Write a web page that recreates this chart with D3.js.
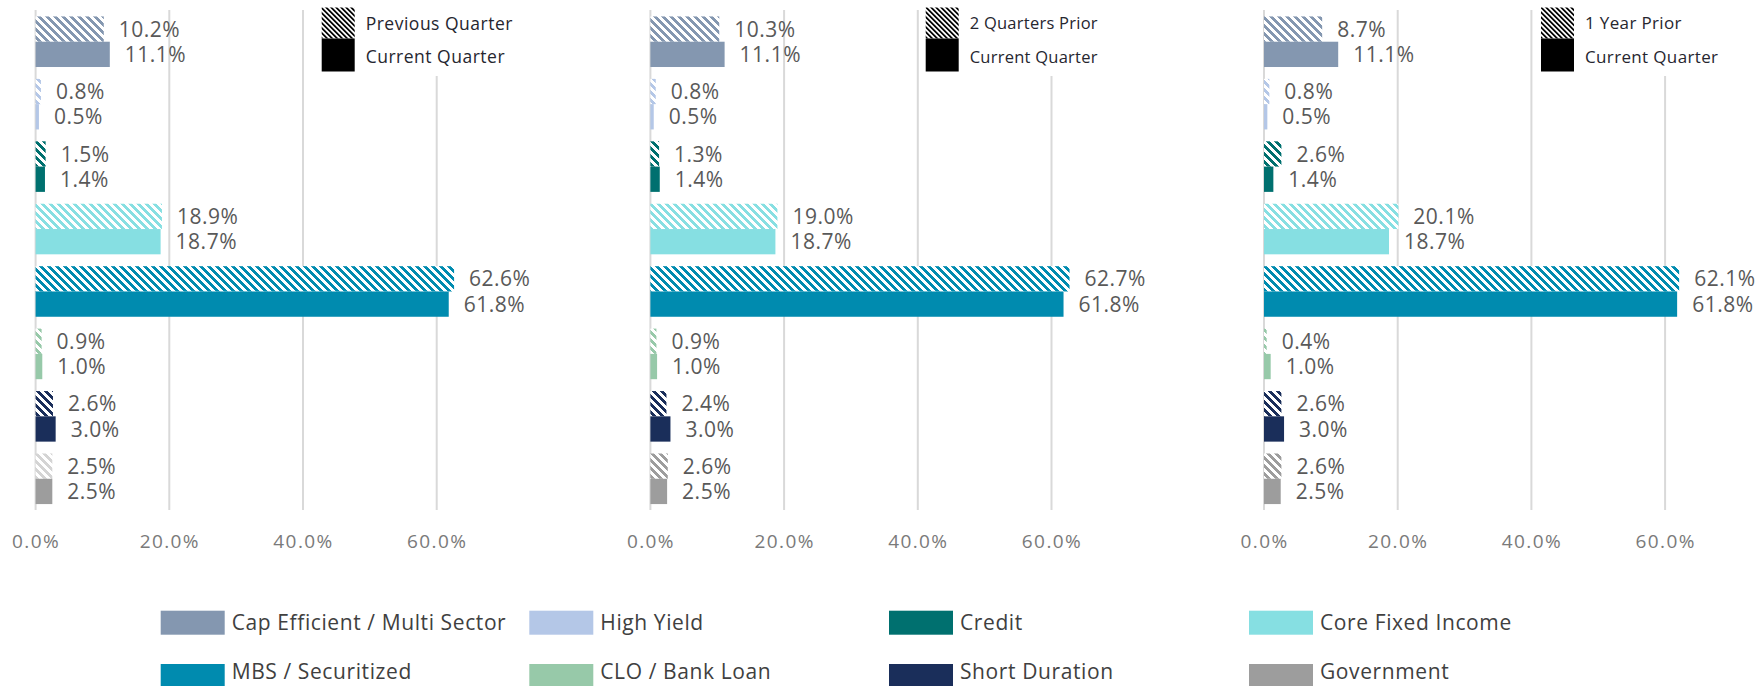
<!DOCTYPE html>
<html>
<head>
<meta charset="utf-8">
<script src="https://cdn.jsdelivr.net/npm/d3@7"></script>
<style>
  html, body { margin: 0; padding: 0; background: #ffffff; }
  svg { display: block; }
  text { font-family: "Open Sans", "Noto Sans", sans-serif; }
</style>
</head>
<body>
<script>
// Sector allocation by strategy group: current quarter vs. three comparison periods
const categories = [
  "Cap Efficient / Multi Sector", "High Yield", "Credit", "Core Fixed Income",
  "MBS / Securitized", "CLO / Bank Loan", "Short Duration", "Government"
];
const seriesColors = [
  "#8497B0", "#B4C7E7", "#00706F", "#86DFE2",
  "#008BAF", "#97C9A9", "#1A2E5A", "#9D9D9D"
];
const currentQuarter   = [11.1, 0.5, 1.4, 18.7, 61.8, 1.0, 3.0, 2.5];
const previousQuarter  = [10.2, 0.8, 1.5, 18.9, 62.6, 0.9, 2.6, 2.5];
const twoQuartersPrior = [10.3, 0.8, 1.3, 19.0, 62.7, 0.9, 2.4, 2.6];
const oneYearPrior     = [8.7, 0.8, 2.6, 20.1, 62.1, 0.4, 2.6, 2.6];
const comparisonLabels = ["Previous Quarter", "2 Quarters Prior", "1 Year Prior"];
const currentLabel = "Current Quarter";
const xTicks = [0, 20, 40, 60];

const W = 1758, H = 686;
const svg = d3.select("body").append("svg").attr("width", W).attr("height", H);
svg.append("rect").attr("width", W).attr("height", H).attr("fill", "#ffffff");

const defs = svg.append("defs");
// Wide downward-diagonal hatch, one pattern per colour
function hatch(id, color) {
  const p = defs.append("pattern")
    .attr("id", id).attr("patternUnits", "userSpaceOnUse")
    .attr("width", 8).attr("height", 8);
  p.append("rect").attr("width", 8).attr("height", 8).attr("fill", "#ffffff");
  p.append("path")
    .attr("d", "M0,0L8,8L4,8L0,4Z M4,0L8,0L8,4Z")
    .attr("fill", color).attr("shape-rendering", "crispEdges");
  return `url(#${id})`;
}
function legendHatch(id) {
  const p = defs.append("pattern")
    .attr("id", id).attr("patternUnits", "userSpaceOnUse")
    .attr("width", 5).attr("height", 5);
  p.append("rect").attr("width", 5).attr("height", 5).attr("fill", "#ffffff");
  p.append("path")
    .attr("d", "M0,0L5,5L2.5,5L0,2.5Z M2.5,0L5,0L5,2.5Z")
    .attr("fill", "#000000");
  return `url(#${id})`;
}

const panels = [
  { prior: previousQuarter,  label: comparisonLabels[0], x0: 35.6,  legendX: 321.7, legendFont: 17.5, legendSpacing: 0.5, govHatch: "#D4D4D4" },
  { prior: twoQuartersPrior, label: comparisonLabels[1], x0: 650.4, legendX: 925.7, legendFont: 16.5, legendSpacing: 0.25, govHatch: null },
  { prior: oneYearPrior,     label: comparisonLabels[2], x0: 1264,  legendX: 1541,  legendFont: 17,   legendSpacing: 0.35, govHatch: null }
];

const pxPerUnit = 133.7 / 20;
const y = d3.scaleBand().domain(categories).range([10.5, 510]).paddingInner(0.19).paddingOuter(0.095);
const fmt = v => d3.format(".1f")(v) + "%";
const legendFill = legendHatch("hatch-legend");

panels.forEach((pn, pi) => {
  const x = d3.scaleLinear().domain([0, 70]).range([pn.x0, pn.x0 + 70 * pxPerUnit]);
  const g = svg.append("g");

  // vertical gridlines
  g.selectAll("line.grid").data(xTicks).join("line")
    .attr("class", "grid")
    .attr("x1", d => x(d)).attr("x2", d => x(d))
    .attr("y1", 10).attr("y2", 510)
    .attr("stroke", "#D9D9D9").attr("stroke-width", 2);

  // tick labels
  const axis = d3.axisBottom(x).tickValues(xTicks).tickFormat(fmt).tickSize(0).tickPadding(0);
  const ax = g.append("g").attr("transform", "translate(0,541.5)").call(axis);
  ax.select(".domain").remove();
  ax.selectAll("text")
    .attr("dy", "0.35em").attr("y", 0)
    .attr("font-size", 19).attr("letter-spacing", 1.4).attr("fill", "#7A7A7A")
    .attr("font-family", "\"Open Sans\", sans-serif");

  const fills = categories.map((c, i) =>
    hatch(`hatch-${pi}-${i}`, (c === "Government" && pn.govHatch) ? pn.govHatch : seriesColors[i]));

  const bh = y.bandwidth() / 2;
  const rows = categories.map((c, i) => ({ c, i, prior: pn.prior[i], cur: currentQuarter[i] }));

  // comparison period (hatched)
  g.selectAll("rect.prior").data(rows).join("rect")
    .attr("class", "prior")
    .attr("x", x(0)).attr("y", d => y(d.c))
    .attr("width", d => x(d.prior) - x(0)).attr("height", bh)
    .attr("fill", d => fills[d.i]);

  // current quarter (solid)
  g.selectAll("rect.cur").data(rows).join("rect")
    .attr("class", "cur")
    .attr("x", x(0)).attr("y", d => y(d.c) + bh)
    .attr("width", d => x(d.cur) - x(0)).attr("height", bh)
    .attr("fill", d => seriesColors[d.i]);

  // value labels
  const lab = g.append("g").attr("font-size", 21).attr("letter-spacing", 0.5).attr("fill", "#595959");
  lab.selectAll("text.p").data(rows).join("text")
    .attr("x", d => x(d.prior) + 15).attr("y", d => y(d.c) + bh / 2)
    .attr("dy", "0.36em").text(d => fmt(d.prior));
  lab.selectAll("text.c").data(rows).join("text")
    .attr("x", d => x(d.cur) + 15).attr("y", d => y(d.c) + bh * 1.5)
    .attr("dy", "0.36em").text(d => fmt(d.cur));

  // period legend
  const lg = g.append("g");
  lg.append("rect").attr("x", pn.legendX - 5).attr("y", 0).attr("width", 210).attr("height", 76).attr("fill", "#ffffff");
  lg.append("rect").attr("x", pn.legendX).attr("y", 7.5).attr("width", 33).attr("height", 31).attr("fill", legendFill);
  lg.append("rect").attr("x", pn.legendX).attr("y", 38.5).attr("width", 33).attr("height", 33).attr("fill", "#000000");
  lg.append("text").attr("x", pn.legendX + 44).attr("y", 23.5).attr("dy", "0.35em")
    .attr("font-size", pn.legendFont).attr("letter-spacing", pn.legendSpacing)
    .attr("fill", "#26262F").text(pn.label);
  lg.append("text").attr("x", pn.legendX + 44).attr("y", 57).attr("dy", "0.35em")
    .attr("font-size", pn.legendFont).attr("letter-spacing", pn.legendSpacing)
    .attr("fill", "#26262F").text(currentLabel);
});

// sector legend
const legendCols = [160.7, 529.3, 889, 1249];
const legendRows = [610.7, 664];
const sl = svg.append("g");
categories.forEach((c, i) => {
  const lx = legendCols[i % 4], ly = legendRows[Math.floor(i / 4)];
  sl.append("rect").attr("x", lx).attr("y", ly).attr("width", 64).attr("height", 24).attr("fill", seriesColors[i]);
  sl.append("text").attr("x", lx + 71).attr("y", Math.min(ly + 12, 671)).attr("dy", "0.36em")
    .attr("font-size", 21).attr("letter-spacing", 0.6).attr("fill", "#404040").text(c);
});
</script>
</body>
</html>
